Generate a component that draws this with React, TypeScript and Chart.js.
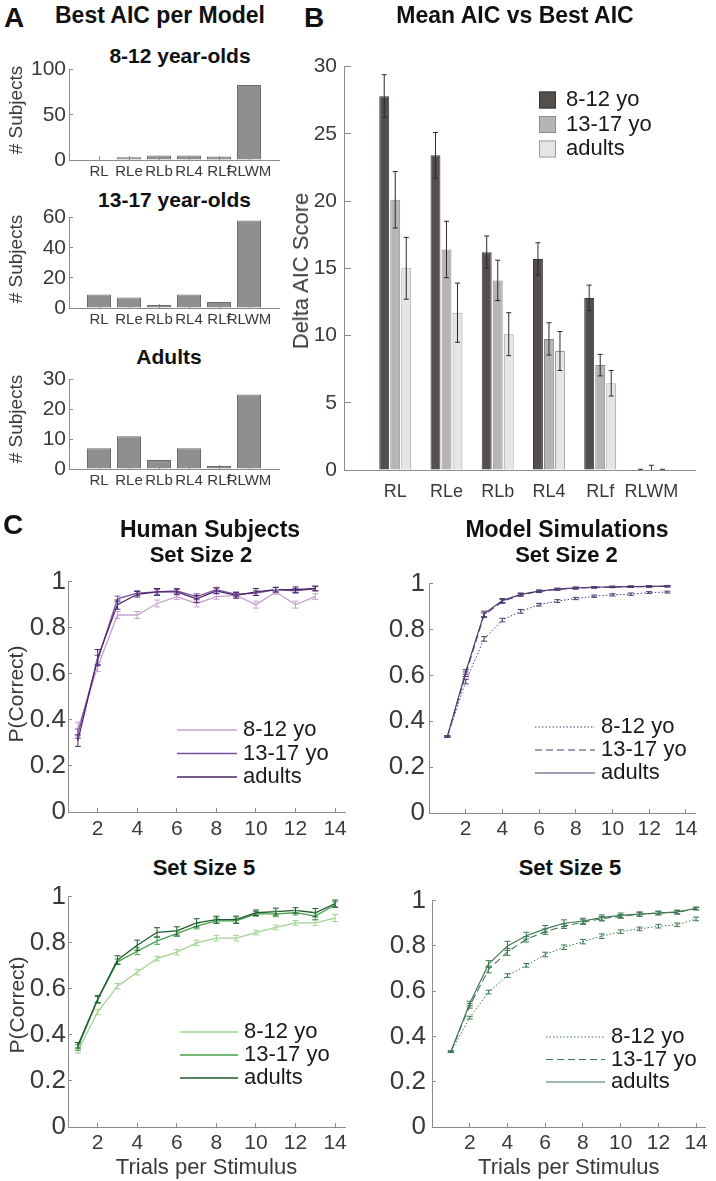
import React, { useEffect, useRef } from "react";
import { Chart, registerables } from "chart.js";

Chart.register(...registerables);

const FONT = '"Liberation Sans", Arial, Helvetica, sans-serif';
Chart.defaults.font.family = FONT;
Chart.defaults.color = "#3a3a3a";

const TICK = "#3a3a3a";
const AXIS = "#8c8c8c";
const INK = "#1a1a1a";

// ---------- Panel A: subjects best fit by each model ----------
const models = ["RL", "RLe", "RLb", "RL4", "RLf", "RLWM"];
const modelPositions = [1, 2, 3, 4, 5, 6];
const bestCount812 = [0, 3, 5, 5, 4, 83];
const bestCount1317 = [9, 7, 2, 9, 4, 58];
const bestCountAdults = [7, 11, 3, 7, 1, 25];
const countTicks812 = [0, 50, 100];
const countTicks1317 = [0, 20, 40, 60];
const countTicksAdults = [0, 10, 20, 30];

// ---------- Panel B: mean delta AIC ----------
const ageGroups = ["8-12 yo", "13-17 yo", "adults"];
const deltaAIC812 = [27.8, 23.4, 16.2, 15.7, 12.8, 0];
const deltaAIC812Err = [1.6, 1.7, 1.2, 1.2, 0.95, 0.05];
const deltaAIC1317 = [20.1, 16.4, 14.1, 9.75, 7.8, 0];
const deltaAIC1317Err = [2.1, 2.1, 1.5, 1.2, 0.8, 0.35];
const deltaAICAdults = [15.0, 11.7, 10.1, 8.85, 6.45, 0];
const deltaAICAdultsErr = [2.3, 2.2, 1.6, 1.45, 0.95, 0.05];
const deltaTicks = [0, 5, 10, 15, 20, 25, 30];

// ---------- Panel C: learning curves ----------
const trialsSS2 = [1, 2, 3, 4, 5, 6, 7, 8, 9, 10, 11, 12, 13];
const trialsSS5 = [1, 2, 3, 4, 5, 6, 7, 8, 9, 10, 11, 12, 13, 14];
const trialTicks = [2, 4, 6, 8, 10, 12, 14];
const pTicks = [0, 0.2, 0.4, 0.6, 0.8, 1];

const humanSS2_812 = [0.36, 0.63, 0.855, 0.855, 0.905, 0.935, 0.905, 0.935, 0.94, 0.9, 0.955, 0.9, 0.935];
const humanSS2_812Err = [0.03, 0.02, 0.015, 0.015, 0.015, 0.012, 0.015, 0.012, 0.012, 0.015, 0.01, 0.015, 0.012];
const humanSS2_1317 = [0.34, 0.66, 0.925, 0.95, 0.955, 0.96, 0.935, 0.965, 0.945, 0.95, 0.965, 0.96, 0.97];
const humanSS2_1317Err = [0.02, 0.02, 0.012, 0.01, 0.01, 0.01, 0.012, 0.01, 0.01, 0.01, 0.01, 0.01, 0.01];
const humanSS2_Adults = [0.31, 0.67, 0.9, 0.945, 0.955, 0.955, 0.925, 0.96, 0.94, 0.955, 0.965, 0.965, 0.97];
const humanSS2_AdultsErr = [0.025, 0.035, 0.02, 0.012, 0.015, 0.012, 0.015, 0.012, 0.012, 0.015, 0.01, 0.012, 0.01];

const modelSS2_812 = [0.333, 0.573, 0.759, 0.841, 0.879, 0.908, 0.924, 0.935, 0.945, 0.951, 0.954, 0.961, 0.963];
const modelSS2_812Err = [0.003, 0.01, 0.01, 0.008, 0.008, 0.006, 0.006, 0.005, 0.005, 0.005, 0.005, 0.004, 0.004];
const modelSS2_1317 = [0.333, 0.605, 0.862, 0.922, 0.951, 0.966, 0.975, 0.98, 0.983, 0.985, 0.986, 0.987, 0.988];
const modelSS2_1317Err = [0.003, 0.01, 0.01, 0.008, 0.006, 0.005, 0.004, 0.004, 0.003, 0.003, 0.003, 0.003, 0.003];
const modelSS2_Adults = [0.333, 0.615, 0.868, 0.926, 0.953, 0.967, 0.976, 0.981, 0.984, 0.986, 0.987, 0.988, 0.989];
const modelSS2_AdultsErr = [0.003, 0.01, 0.012, 0.009, 0.006, 0.005, 0.004, 0.004, 0.003, 0.003, 0.003, 0.003, 0.003];

const humanSS5_812 = [0.331, 0.499, 0.611, 0.672, 0.731, 0.759, 0.799, 0.82, 0.82, 0.844, 0.866, 0.886, 0.886, 0.907];
const humanSS5_812Err = [0.01, 0.012, 0.012, 0.012, 0.01, 0.012, 0.012, 0.012, 0.012, 0.01, 0.01, 0.01, 0.012, 0.015];
const humanSS5_1317 = [0.345, 0.552, 0.717, 0.763, 0.808, 0.839, 0.872, 0.895, 0.895, 0.925, 0.925, 0.93, 0.915, 0.965];
const humanSS5_1317Err = [0.012, 0.015, 0.012, 0.015, 0.015, 0.012, 0.012, 0.012, 0.012, 0.01, 0.012, 0.01, 0.015, 0.012];
const humanSS5_Adults = [0.355, 0.555, 0.725, 0.789, 0.845, 0.851, 0.886, 0.9, 0.9, 0.93, 0.935, 0.94, 0.93, 0.97];
const humanSS5_AdultsErr = [0.012, 0.015, 0.018, 0.022, 0.02, 0.018, 0.018, 0.015, 0.015, 0.012, 0.015, 0.012, 0.018, 0.015];

const modelSS5_812 = [0.333, 0.483, 0.596, 0.669, 0.714, 0.762, 0.794, 0.819, 0.843, 0.863, 0.875, 0.887, 0.893, 0.919];
const modelSS5_812Err = [0.003, 0.006, 0.008, 0.008, 0.008, 0.01, 0.01, 0.01, 0.01, 0.008, 0.008, 0.008, 0.008, 0.008];
const modelSS5_1317 = [0.333, 0.535, 0.696, 0.773, 0.829, 0.863, 0.887, 0.905, 0.92, 0.93, 0.94, 0.945, 0.948, 0.965];
const modelSS5_1317Err = [0.003, 0.01, 0.015, 0.015, 0.012, 0.012, 0.01, 0.01, 0.01, 0.008, 0.008, 0.008, 0.008, 0.006];
const modelSS5_Adults = [0.333, 0.545, 0.72, 0.8, 0.845, 0.875, 0.9, 0.91, 0.925, 0.935, 0.94, 0.945, 0.95, 0.965];
const modelSS5_AdultsErr = [0.003, 0.01, 0.015, 0.02, 0.015, 0.015, 0.015, 0.012, 0.012, 0.01, 0.01, 0.008, 0.008, 0.006];

// ---------- helpers ----------
const fixedTicks = (values: number[]) => (scale: any) => {
  scale.ticks = values.map((v) => ({ value: v }));
};
const fixWidth = (w: number) => (scale: any) => {
  scale.width = w;
};
const fixHeight = (h: number) => (scale: any) => {
  scale.height = h;
};

const errorBarPlugin = {
  id: "errorBars",
  afterDatasetsDraw(chart: any) {
    const { ctx, chartArea } = chart;
    ctx.save();
    ctx.beginPath();
    ctx.rect(chartArea.left - 10, chartArea.top - 20, chartArea.right - chartArea.left + 20, chartArea.bottom - chartArea.top + 20);
    ctx.clip();
    chart.data.datasets.forEach((ds: any, i: number) => {
      if (!ds.errors) return;
      const meta = chart.getDatasetMeta(i);
      const yScale = chart.scales[meta.yAxisID];
      ctx.strokeStyle = ds.errorColor || ds.borderColor;
      ctx.lineWidth = ds.errorWidth || 1;
      ctx.setLineDash([]);
      const cap = ds.capHalf || 3;
      meta.data.forEach((el: any, j: number) => {
        const raw = ds.data[j];
        const v = typeof raw === "number" ? raw : raw.y;
        const e = ds.errors[j];
        if (!e) return;
        const x = el.x;
        const yHi = yScale.getPixelForValue(v + e);
        const yLo = yScale.getPixelForValue(v - e);
        ctx.beginPath();
        ctx.moveTo(x, yHi);
        ctx.lineTo(x, yLo);
        ctx.moveTo(x - cap, yHi);
        ctx.lineTo(x + cap, yHi);
        ctx.moveTo(x - cap, yLo);
        ctx.lineTo(x + cap, yLo);
        ctx.stroke();
      });
    });
    ctx.restore();
  },
};

const lineLegendPlugin = {
  id: "lineLegend",
  afterDraw(chart: any, _args: any, opts: any) {
    if (!opts || opts.x === undefined) return;
    const ctx = chart.ctx;
    chart.data.datasets.forEach((ds: any, i: number) => {
      const y = opts.y + i * opts.dy;
      ctx.save();
      ctx.strokeStyle = ds.borderColor;
      ctx.lineWidth = ds.borderWidth;
      ctx.setLineDash(ds.borderDash || []);
      ctx.beginPath();
      ctx.moveTo(opts.x, y);
      ctx.lineTo(opts.x + opts.len, y);
      ctx.stroke();
      ctx.restore();
      ctx.save();
      ctx.fillStyle = INK;
      ctx.font = `${opts.size}px ${FONT}`;
      ctx.textAlign = "left";
      ctx.textBaseline = "middle";
      ctx.fillText(ds.label, opts.x + opts.len + opts.gap, y);
      ctx.restore();
    });
  },
};

const boxLegendPlugin = {
  id: "boxLegend",
  afterDraw(chart: any, _args: any, opts: any) {
    if (!opts || opts.x === undefined) return;
    const ctx = chart.ctx;
    chart.data.datasets.forEach((ds: any, i: number) => {
      const y = opts.y + i * opts.dy;
      ctx.save();
      ctx.fillStyle = ds.backgroundColor;
      ctx.strokeStyle = ds.borderColor;
      ctx.lineWidth = 1;
      ctx.fillRect(opts.x, y - opts.box / 2, opts.box, opts.box);
      ctx.strokeRect(opts.x + 0.5, y - opts.box / 2 + 0.5, opts.box - 1, opts.box - 1);
      ctx.fillStyle = INK;
      ctx.font = `${opts.size}px ${FONT}`;
      ctx.textAlign = "left";
      ctx.textBaseline = "middle";
      ctx.fillText(ds.label, opts.x + opts.box + opts.gap, y);
      ctx.restore();
    });
  },
};

const axisGrid = (tickLength: number) => ({
  display: true,
  drawOnChartArea: false,
  offset: false,
  tickLength,
  color: AXIS,
  tickColor: AXIS,
  lineWidth: 1,
});
const axisBorder = { display: true, color: AXIS, width: 1 };

// ---------- chart configs ----------
function countConfig(values: number[], yMax: number, yTicks: number[], padTop: number, xHeight: number) {
  return {
    type: "bar",
    data: {
      datasets: [
        {
          data: modelPositions.map((p, i) => ({ x: p, y: values[i] })),
          backgroundColor: "#8f8f8f",
          borderColor: "#6c6c6c",
          borderWidth: 1,
          barPercentage: 0.8,
          categoryPercentage: 1,
        },
      ],
    },
    options: {
      responsive: false,
      animation: false,
      devicePixelRatio: 1,
      layout: { padding: { top: padTop, right: 16, left: 0, bottom: 0 } },
      plugins: { legend: { display: false }, tooltip: { enabled: false } },
      scales: {
        x: {
          type: "linear",
          min: 0,
          max: 7,
          offset: false,
          z: 1,
          grid: axisGrid(-4),
          border: axisBorder,
          ticks: {
            padding: 7,
            color: TICK,
            font: { size: 15 },
            autoSkip: false,
            maxRotation: 0,
            callback: (v: number) => models[modelPositions.indexOf(v)] ?? "",
          },
          afterBuildTicks: fixedTicks(modelPositions),
          afterFit: fixHeight(xHeight),
        },
        y: {
          min: 0,
          max: yMax,
          grid: axisGrid(-4),
          border: axisBorder,
          ticks: { padding: 7, color: TICK, font: { size: 21 } },
          afterBuildTicks: fixedTicks(yTicks),
          afterFit: fixWidth(69),
        },
      },
    },
  };
}

function deltaConfig() {
  const mk = (label: string, vals: number[], errs: number[], fill: string, edge: string) => ({
    label,
    data: modelPositions.map((p, i) => ({ x: p, y: vals[i] })),
    errors: errs,
    errorColor: "#2a2a2a",
    capHalf: 2.5,
    backgroundColor: fill,
    borderColor: edge,
    borderWidth: 1,
    barPercentage: 0.9,
    categoryPercentage: 0.645,
  });
  return {
    type: "bar",
    data: {
      datasets: [
        mk(ageGroups[0], deltaAIC812, deltaAIC812Err, "#544f4d", "#3b3837"),
        mk(ageGroups[1], deltaAIC1317, deltaAIC1317Err, "#b5b5b5", "#8c8c8c"),
        mk(ageGroups[2], deltaAICAdults, deltaAICAdultsErr, "#e5e5e5", "#9e9e9e"),
      ],
    },
    options: {
      responsive: false,
      animation: false,
      devicePixelRatio: 1,
      layout: { padding: { top: 23, right: 21, left: 0, bottom: 0 } },
      plugins: {
        legend: { display: false },
        tooltip: { enabled: false },
        boxLegend: { x: 251, y: 60, dy: 24.5, box: 17, gap: 10, size: 22 },
      },
      scales: {
        x: {
          type: "linear",
          min: 0,
          max: 6.85,
          offset: false,
          grid: axisGrid(0),
          border: axisBorder,
          ticks: {
            padding: 11,
            color: TICK,
            font: { size: 18 },
            autoSkip: false,
            maxRotation: 0,
            callback: (v: number) => models[modelPositions.indexOf(v)] ?? "",
          },
          afterBuildTicks: fixedTicks(modelPositions),
          afterFit: fixHeight(40),
        },
        y: {
          min: 0,
          max: 30,
          grid: axisGrid(-7),
          border: axisBorder,
          ticks: { padding: 14, color: TICK, font: { size: 21 } },
          afterBuildTicks: fixedTicks(deltaTicks),
          afterFit: fixWidth(56),
        },
      },
    },
    plugins: [errorBarPlugin, boxLegendPlugin],
  };
}

type Series = { label: string; values: number[]; errors: number[]; color: string; dash?: number[]; width: number };

type PerfOpts = {
  padTop: number;
  padRight: number;
  yWidth: number;
  xHeight: number;
  xMin: number;
  xPad: number;
  yPad: number;
  xTitle: boolean;
  legend: any;
};

function perfConfig(trials: number[], series: Series[], o: PerfOpts) {
  const n = series.length;
  return {
    type: "line",
    data: {
      datasets: series.map((s, k) => ({
        label: s.label,
        data: trials.map((t, i) => ({ x: t, y: s.values[i] })),
        errors: s.errors,
        capHalf: 3,
        errorWidth: 1,
        borderColor: s.color,
        borderWidth: s.width,
        borderDash: s.dash || [],
        pointRadius: 0,
        tension: 0,
        fill: false,
        order: n - k,
      })),
    },
    options: {
      responsive: false,
      animation: false,
      devicePixelRatio: 1,
      layout: { padding: { top: o.padTop, right: o.padRight, left: 0, bottom: 0 } },
      plugins: { legend: { display: false }, tooltip: { enabled: false }, lineLegend: o.legend },
      scales: {
        x: {
          type: "linear",
          min: o.xMin,
          max: 14.5,
          offset: false,
          grid: axisGrid(-4),
          border: axisBorder,
          ticks: { padding: o.xPad, color: TICK, font: { size: 21 }, autoSkip: false, maxRotation: 0 },
          title: {
            display: o.xTitle,
            text: "Trials per Stimulus",
            color: TICK,
            font: { size: 22 },
            padding: { top: 0, bottom: 0 },
          },
          afterBuildTicks: fixedTicks(trialTicks),
          afterFit: fixHeight(o.xHeight),
        },
        y: {
          min: 0,
          max: 1,
          grid: axisGrid(-4),
          border: axisBorder,
          ticks: { padding: o.yPad, color: TICK, font: { size: 26 }, callback: (v: number) => String(v) },
          afterBuildTicks: fixedTicks(pTicks),
          afterFit: fixWidth(o.yWidth),
        },
      },
    },
    plugins: [errorBarPlugin, lineLegendPlugin],
  };
}

// ---------- components ----------
function ChartBox({ left, top, width, height, make }: { left: number; top: number; width: number; height: number; make: () => any }) {
  const ref = useRef<HTMLCanvasElement>(null);
  useEffect(() => {
    const chart = new Chart(ref.current as HTMLCanvasElement, make());
    return () => chart.destroy();
  }, []);
  return (
    <div style={{ position: "absolute", left, top, width, height }}>
      <canvas ref={ref} width={width} height={height} style={{ width, height, display: "block" }} />
    </div>
  );
}

function Txt({ x, y, size, text, center = true }: { x: number; y: number; size: number; text: string; center?: boolean }) {
  const style: React.CSSProperties = {
    position: "absolute",
    top: y - 0.49 * size,
    fontSize: size,
    lineHeight: `${size}px`,
    fontWeight: 700,
    whiteSpace: "nowrap",
    color: "#111",
    fontFamily: FONT,
  };
  if (center) {
    style.left = x - 200;
    style.width = 400;
    style.textAlign = "center";
  } else {
    style.left = x;
  }
  return <div style={style}>{text}</div>;
}

function VTxt({ x, y, size, text }: { x: number; y: number; size: number; text: string }) {
  return (
    <div
      style={{
        position: "absolute",
        left: x,
        top: y,
        transform: "translate(-50%, -50%) rotate(-90deg)",
        fontSize: size,
        lineHeight: `${size}px`,
        whiteSpace: "nowrap",
        color: TICK,
        fontFamily: FONT,
      }}
    >
      {text}
    </div>
  );
}

const purpleLight = "#c6a1d2";
const purpleMid = "#7b4e9f";
const purpleDark = "#48256a";
const purpleModel = "#4f3b71";
const greenLight = "#a3d393";
const greenMid = "#45a24a";
const greenDark = "#1d5a30";
const greenModel = "#3f7855";

export default function App() {
  return (
    <div style={{ position: "absolute", left: 0, top: 0, width: 716, height: 1181, background: "#fff", overflow: "hidden" }}>
      {/* Panel A */}
      <Txt x={4} y={17.5} size={28} text="A" center={false} />
      <Txt x={160} y={15.3} size={23} text="Best AIC per Model" />
      <Txt x={180} y={55.7} size={21} text="8-12 year-olds" />
      <Txt x={174.5} y={199.5} size={21} text="13-17 year-olds" />
      <Txt x={169} y={356.3} size={21} text="Adults" />
      <ChartBox left={0} top={50} width={295} height={135} make={() => countConfig(bestCount812, 100, countTicks812, 11, 25)} />
      <ChartBox left={0} top={198} width={295} height={135} make={() => countConfig(bestCount1317, 60, countTicks1317, 11, 25)} />
      <ChartBox left={0} top={360} width={295} height={135} make={() => countConfig(bestCountAdults, 30, countTicksAdults, 11, 26)} />
      <VTxt x={15} y={110} size={19} text="# Subjects" />
      <VTxt x={15} y={259} size={19} text="# Subjects" />
      <VTxt x={15} y={419} size={19} text="# Subjects" />

      {/* Panel B */}
      <Txt x={304} y={17.5} size={28} text="B" center={false} />
      <Txt x={515} y={15.3} size={23} text="Mean AIC vs Best AIC" />
      <ChartBox left={288} top={40} width={428} height={470} make={deltaConfig} />
      <VTxt x={301} y={271} size={22} text="Delta AIC Score" />

      {/* Panel C */}
      <Txt x={3} y={525} size={28} text="C" center={false} />
      <Txt x={210} y={529} size={23} text="Human Subjects" />
      <Txt x={201} y={555} size={22} text="Set Size 2" />
      <Txt x={567} y={529} size={23} text="Model Simulations" />
      <Txt x={566.5} y={555} size={22} text="Set Size 2" />
      <Txt x={204} y={868} size={22} text="Set Size 5" />
      <Txt x={570} y={868} size={22} text="Set Size 5" />
      <VTxt x={15} y={694} size={21} text="P(Correct)" />
      <VTxt x={16} y={1005} size={21} text="P(Correct)" />

      <ChartBox
        left={0}
        top={560}
        width={358}
        height={285}
        make={() =>
          perfConfig(
            trialsSS2,
            [
              { label: ageGroups[0], values: humanSS2_812, errors: humanSS2_812Err, color: purpleLight, width: 1.3 },
              { label: ageGroups[1], values: humanSS2_1317, errors: humanSS2_1317Err, color: purpleMid, width: 1.3 },
              { label: ageGroups[2], values: humanSS2_Adults, errors: humanSS2_AdultsErr, color: purpleDark, width: 1.3 },
            ],
            {
              padTop: 15, padRight: 13, yWidth: 68, xHeight: 33, xMin: 0.5, xPad: 9, yPad: 6, xTitle: false,
              legend: { x: 177, y: 170, dy: 23.5, len: 60, gap: 6, size: 22 },
            }
          )
        }
      />
      <ChartBox
        left={358}
        top={560}
        width={358}
        height={285}
        make={() =>
          perfConfig(
            trialsSS2,
            [
              { label: ageGroups[0], values: modelSS2_812, errors: modelSS2_812Err, color: purpleModel, width: 1, dash: [1.5, 2] },
              { label: ageGroups[1], values: modelSS2_1317, errors: modelSS2_1317Err, color: purpleModel, width: 1.1, dash: [7, 4] },
              { label: ageGroups[2], values: modelSS2_Adults, errors: modelSS2_AdultsErr, color: purpleModel, width: 1.2 },
            ],
            {
              padTop: 17, padRight: 21, yWidth: 71, xHeight: 32, xMin: 0, xPad: 8, yPad: 8, xTitle: false,
              legend: { x: 177, y: 167, dy: 23, len: 60, gap: 6, size: 22 },
            }
          )
        }
      />
      <ChartBox
        left={0}
        top={875}
        width={358}
        height={306}
        make={() =>
          perfConfig(
            trialsSS5,
            [
              { label: ageGroups[0], values: humanSS5_812, errors: humanSS5_812Err, color: greenLight, width: 1.3 },
              { label: ageGroups[1], values: humanSS5_1317, errors: humanSS5_1317Err, color: greenMid, width: 1.3 },
              { label: ageGroups[2], values: humanSS5_Adults, errors: humanSS5_AdultsErr, color: greenDark, width: 1.3 },
            ],
            {
              padTop: 16, padRight: 13, yWidth: 68, xHeight: 54, xMin: 0.5, xPad: 8, yPad: 6, xTitle: true,
              legend: { x: 180, y: 157, dy: 23, len: 58, gap: 6, size: 22 },
            }
          )
        }
      />
      <ChartBox
        left={358}
        top={875}
        width={358}
        height={306}
        make={() =>
          perfConfig(
            trialsSS5,
            [
              { label: ageGroups[0], values: modelSS5_812, errors: modelSS5_812Err, color: greenModel, width: 1, dash: [1.5, 2] },
              { label: ageGroups[1], values: modelSS5_1317, errors: modelSS5_1317Err, color: greenModel, width: 1.1, dash: [7, 4] },
              { label: ageGroups[2], values: modelSS5_Adults, errors: modelSS5_AdultsErr, color: greenModel, width: 1.2 },
            ],
            {
              padTop: 12, padRight: 6, yWidth: 74, xHeight: 54, xMin: 0, xPad: 8, yPad: 10, xTitle: true,
              legend: { x: 188, y: 162, dy: 22.5, len: 59, gap: 6, size: 22 },
            }
          )
        }
      />
    </div>
  );
}
